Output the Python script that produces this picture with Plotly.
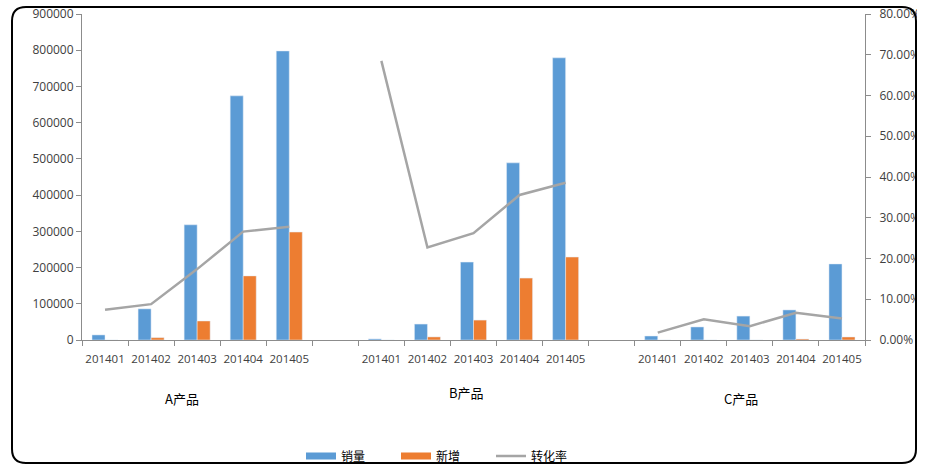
import plotly.graph_objects as go

months = ["201401", "201402", "201403", "201404", "201405"]
products = ["A产品", "B产品", "C产品"]

sales_A = [14000, 86000, 318000, 674000, 798000]
sales_B = [3000, 44000, 215000, 489000, 779000]
sales_C = [11000, 36000, 66000, 83000, 210000]

new_A = [0, 6500, 52500, 177000, 298000]
new_B = [0, 8500, 55000, 171000, 229000]
new_C = [0, 0, 0, 2800, 8300]

rate_A = [0.074, 0.088, 0.174, 0.266, 0.278]
rate_B = [0.685, 0.227, 0.262, 0.356, 0.386]
rate_C = [0.018, 0.051, 0.034, 0.067, 0.053]

left_ticks = [0, 100000, 200000, 300000, 400000, 500000, 600000, 700000, 800000, 900000]
right_ticks = [0, 0.1, 0.2, 0.3, 0.4, 0.5, 0.6, 0.7, 0.8]

BLUE = "#5B9BD5"
ORANGE = "#ED7D31"
GRAY = "#A5A5A5"
AXIS = "#8C8C8C"
TXT = "#404040"

# Build combined series with a blank slot between product groups
groups_sales = [sales_A, sales_B, sales_C]
groups_new = [new_A, new_B, new_C]
groups_rate = [rate_A, rate_B, rate_C]
x_all, lab_all, s_all, n_all, r_all = [], [], [], [], []
centers = []
pos = 0
for g in range(len(products)):
    start = pos
    for i, m in enumerate(months):
        x_all.append(pos)
        lab_all.append(m)
        s_all.append(groups_sales[g][i])
        n_all.append(groups_new[g][i])
        r_all.append(groups_rate[g][i])
        pos += 1
    centers.append((start + pos - 1) / 2)
    if g < len(products) - 1:
        x_all.append(pos)
        lab_all.append("")
        s_all.append(None)
        n_all.append(None)
        r_all.append(None)
        pos += 1
n_slots = pos

# plot-area pixel geometry
W, H = 932, 475
L, R, T, B = 82, 67, 14, 135
PW, PH = W - L - R, H - T - B


def px(xp):
    return (xp - L) / PW


def py(yp):
    return (H - B - yp) / PH


fig = go.Figure()
fig.add_trace(go.Bar(x=x_all, y=s_all, name="销量", marker_color=BLUE,
                     showlegend=False))
fig.add_trace(go.Bar(x=x_all, y=n_all, name="新增", marker_color=ORANGE,
                     showlegend=False))
fig.add_trace(go.Scatter(x=[None], y=[None], mode="lines", name="销量",
                         line=dict(color=BLUE, width=7)))
fig.add_trace(go.Scatter(x=[None], y=[None], mode="lines", name="新增",
                         line=dict(color=ORANGE, width=7)))
fig.add_trace(go.Scatter(x=x_all, y=r_all, mode="lines", name="转化率",
                         yaxis="y2", connectgaps=False,
                         line=dict(color=GRAY, width=2.5)))

# product group labels
shifts = [-15, -7, -9]
ys = [398, 392, 398]
for g, name in enumerate(products):
    fig.add_annotation(x=centers[g], xref="x", y=py(ys[g]), yref="paper",
                       yanchor="middle", xanchor="center",
                       text=name, showarrow=False, xshift=shifts[g],
                       font=dict(size=13, color="#000000",
                                 family="Noto Sans CJK SC"))

# border (rounded) and right clipping
x0, x1, y0, y1 = px(12), px(916), py(463), py(7)
rx, ry = 14 / PW, 14 / PH
path = (f"M {x0+rx},{y1} L {x1-rx},{y1} Q {x1},{y1} {x1},{y1-ry} "
        f"L {x1},{y0+ry} Q {x1},{y0} {x1-rx},{y0} L {x0+rx},{y0} "
        f"Q {x0},{y0} {x0},{y0+ry} L {x0},{y1-ry} Q {x0},{y1} {x0+rx},{y1} Z")
fig.add_shape(type="rect", xref="paper", yref="paper", x0=px(917), x1=px(940),
              y0=py(480), y1=py(-5), fillcolor="white", line_width=0,
              layer="above")
fig.add_shape(type="path", xref="paper", yref="paper", path=path,
              line=dict(color="#000000", width=2), layer="above")

fig.update_layout(
    width=W, height=H,
    margin=dict(l=L, r=R, t=T, b=B, autoexpand=False),
    paper_bgcolor="white", plot_bgcolor="white",
    barmode="group", bargap=0.435, bargroupgap=0,
    font=dict(family="Open Sans, Noto Sans CJK SC", size=11, color=TXT),
    xaxis=dict(range=[-0.5, n_slots - 0.5], tickmode="array",
               tickvals=x_all, ticktext=lab_all, ticks="outside", ticklen=8,
               tickcolor="rgba(0,0,0,0)", showline=True, linecolor=AXIS,
               linewidth=1, showgrid=False, zeroline=False,
               tickfont=dict(size=11.5, color=TXT),
               minor=dict(tickmode="linear", tick0=-0.5, dtick=1,
                          ticks="outside", ticklen=5, tickcolor=AXIS,
                          showgrid=False)),
    yaxis=dict(range=[0, 900000], tickmode="array", tickvals=left_ticks,
               tickformat="d", ticks="outside", ticklen=5, tickcolor=AXIS,
               showline=True, linecolor=AXIS, showgrid=False,
               zeroline=False, tickfont=dict(size=12, color=TXT)),
    yaxis2=dict(range=[0, 0.8], overlaying="y", side="right",
                tickmode="array", tickvals=right_ticks, tickformat=".2%",
                ticks="outside", ticklen=5, tickcolor=AXIS, showline=True,
                linecolor=AXIS, showgrid=False, zeroline=False,
                ticklabelstandoff=6,
                tickfont=dict(size=12, color=TXT)),
    legend=dict(orientation="h", x=px(301), xanchor="left", y=py(456),
                yanchor="middle", entrywidth=50, entrywidthmode="pixels",
                font=dict(size=12, color="#000000",
                          family="Noto Sans CJK SC"),
                bgcolor="rgba(0,0,0,0)"),
)

fig.write_html("out.html", config={"displayModeBar": False},
               post_script="document.body.style.margin='0';")
